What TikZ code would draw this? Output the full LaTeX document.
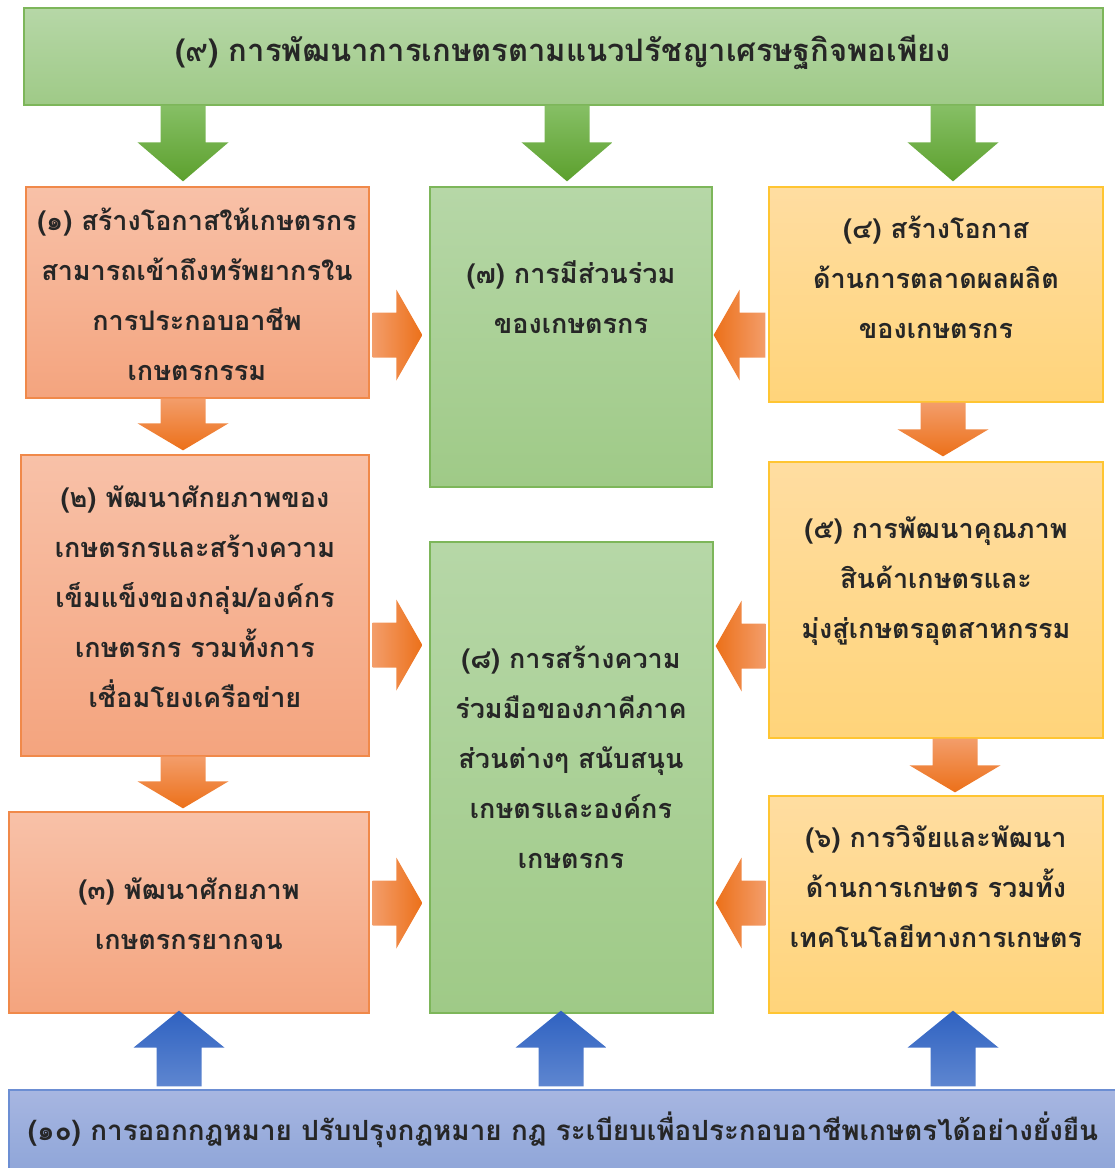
\documentclass[tikz,border=0pt]{standalone}
\usepackage{fontspec}
\newfontfamily\thaifont[Script=Thai]{Loma}
\usepackage{tikz}
\usetikzlibrary{calc}
\usetikzlibrary{positioning}

\definecolor{otop}{HTML}{F8C1A8}
\definecolor{obot}{HTML}{F4A47E}
\definecolor{oline}{HTML}{F0894A}
\definecolor{gtop}{HTML}{B6D7A7}
\definecolor{gbot}{HTML}{9FCA87}
\definecolor{gline}{HTML}{7DB65A}
\definecolor{ytop}{HTML}{FFDDA1}
\definecolor{ybot}{HTML}{FFD47A}
\definecolor{yline}{HTML}{FFC532}
\definecolor{btop}{HTML}{A7B6E1}
\definecolor{bbot}{HTML}{8EA5D8}
\definecolor{bline}{HTML}{6C8ED3}
\definecolor{galight}{HTML}{86BF65}
\definecolor{gadark}{HTML}{5CA02D}
\definecolor{oalight}{HTML}{F39D6A}
\definecolor{oadark}{HTML}{EC7019}
\definecolor{balight}{HTML}{5E86D0}
\definecolor{badark}{HTML}{2F62C1}
\definecolor{ink}{HTML}{262626}

\tikzset{
  box/.style={rectangle, line width=1.3pt, inner sep=0pt},
  obox/.style={box, draw=oline, top color=otop, bottom color=obot},
  gbox/.style={box, draw=gline, top color=gtop, bottom color=gbot},
  ybox/.style={box, draw=yline, top color=ytop, bottom color=ybot},
  bbox/.style={box, draw=bline, top color=btop, bottom color=bbot},
  txt/.style={align=center, text=ink, inner sep=0pt,
    font=\thaifont\bfseries\fontsize{27}{50}\selectfont},
  bigtxt/.style={txt, font=\thaifont\bfseries\fontsize{31}{50}\selectfont},
  midtxt/.style={txt, font=\thaifont\bfseries\fontsize{27.8}{50}\selectfont},
  gdown/.style={top color=galight, bottom color=gadark},
  odown/.style={top color=oalight, bottom color=oadark},
  oright/.style={left color=oalight, right color=oadark},
  oleft/.style={left color=oadark, right color=oalight},
  bup/.style={top color=badark, bottom color=balight},
}

% block arrow: style, from, to, head length
\newcommand{\blockarrow}[4][]{%
  \path[#1] let \p1=(#2), \p2=(#3),
    \n1={veclen(\x2-\x1,\y2-\y1)}, \n2={atan2(\y2-\y1,\x2-\x1)} in
    [shift={(\p1)}, rotate=\n2]
    (0pt,-22.5pt) -- (\n1-#4,-22.5pt) -- (\n1-#4,-45.5pt) -- (\n1,0pt)
    -- (\n1-#4,45.5pt) -- (\n1-#4,22.5pt) -- (0pt,22.5pt) -- cycle;}

\begin{document}
\begin{tikzpicture}[x=1pt,y=-1pt]
	\useasboundingbox (0,0) rectangle (1115,1168);

	\node[gbox, minimum width=1079pt, minimum height=97pt] (b9) at (563.5,56.5) {};
	\node[obox, minimum width=343pt, minimum height=211pt] (b1) at (197.5,292.5) {};
	\node[gbox, minimum width=282pt, minimum height=300pt] (b7) at (571,337) {};
	\node[ybox, minimum width=334pt, minimum height=215pt] (b4) at (936,294.5) {};
	\node[obox, minimum width=348pt, minimum height=301pt] (b2) at (195,605.5) {};
	\node[gbox, minimum width=283pt, minimum height=471pt] (b8) at (571.5,777.5) {};
	\node[ybox, minimum width=334pt, minimum height=276pt] (b5) at (936,600) {};
	\node[obox, minimum width=360pt, minimum height=201pt] (b3) at (189,912.5) {};
	\node[ybox, minimum width=334pt, minimum height=217pt] (b6) at (936,904.5) {};
	\node[bbox, minimum width=1111pt, minimum height=85pt] (b10) at (564.5,1132.5) {};

	\node[bigtxt] (t9) at (563,52) {(๙) การพัฒนาการเกษตรตามแนวปรัชญาเศรษฐกิจพอเพียง};
	\node[txt] (t1) at (197,294) {(๑) สร้างโอกาสให้เกษตรกร\\สามารถเข้าถึงทรัพยากรใน\\การประกอบอาชีพ\\เกษตรกรรม};
	\node[txt] (t7) at (571,297) {(๗) การมีส่วนร่วม\\ของเกษตรกร};
	\node[txt] (t4) at (936,277) {(๔) สร้างโอกาส\\ด้านการตลาดผลผลิต\\ของเกษตรกร};
	\node[txt] (t2) at (195,597) {(๒) พัฒนาศักยภาพของ\\เกษตรกรและสร้างความ\\เข็มแข็งของกลุ่ม/องค์กร\\เกษตรกร รวมทั้งการ\\เชื่อมโยงเครือข่าย};
	\node[txt] (t8) at (571,757) {(๘) การสร้างความ\\ร่วมมือของภาคีภาค\\ส่วนต่างๆ สนับสนุน\\เกษตรและองค์กร\\เกษตรกร};
	\node[txt] (t5) at (936,581) {(๕) การพัฒนาคุณภาพ\\สินค้าเกษตรและ\\มุ่งสู่เกษตรอุตสาหกรรม};
	\node[txt] (t3) at (189,914) {(๓) พัฒนาศักยภาพ\\เกษตรกรยากจน};
	\node[txt] (t6) at (936,886) {(๖) การวิจัยและพัฒนา\\ด้านการเกษตร รวมทั้ง\\เทคโนโลยีทางการเกษตร};
	\node[midtxt] (t10) at (563,1130) {(๑๐) การออกกฎหมาย ปรับปรุงกฎหมาย กฎ ระเบียบเพื่อประกอบอาชีพเกษตรได้อย่างยั่งยืน};

	\blockarrow[gdown]{b9.south -| 183,0}{$(b1.north -| 183,0)+(0,-5)$}{39pt}
	\blockarrow[gdown]{b9.south -| 567,0}{$(b7.north -| 567,0)+(0,-5)$}{39pt}
	\blockarrow[gdown]{b9.south -| 953,0}{$(b4.north -| 953,0)+(0,-5)$}{39pt}

	\blockarrow[odown]{b1.south -| 183,0}{$(b2.north -| 183,0)+(0,-4)$}{27pt}
	\blockarrow[odown]{b2.south -| 183,0}{$(b3.north -| 183,0)+(0,-3)$}{27pt}
	\blockarrow[odown]{b4.south -| 943,0}{$(b5.north -| 943,0)+(0,-5)$}{27pt}
	\blockarrow[odown]{b5.south -| 955,0}{$(b6.north -| 955,0)+(0,-3)$}{27pt}

	\blockarrow[oright]{$(b1.east |- 0,335)+(3,0)$}{$(b7.west |- 0,335)+(-7,0)$}{26pt}
	\blockarrow[oright]{$(b2.east |- 0,645)+(3,0)$}{$(b8.west |- 0,645)+(-7,0)$}{26pt}
	\blockarrow[oright]{$(b3.east |- 0,903)+(3,0)$}{$(b8.west |- 0,903)+(-7,0)$}{26pt}
	\blockarrow[oleft]{$(b4.west |- 0,335)+(-3,0)$}{$(b7.east |- 0,335)+(1,0)$}{26pt}
	\blockarrow[oleft]{$(b5.west |- 0,646)+(-3,0)$}{$(b8.east |- 0,646)+(2,0)$}{26pt}
	\blockarrow[oleft]{$(b6.west |- 0,903)+(-3,0)$}{$(b8.east |- 0,903)+(2,0)$}{26pt}

	\blockarrow[bup]{$(b10.north -| 179,0)+(0,-3)$}{$(b3.south -| 179,0)+(0,-3)$}{37pt}
	\blockarrow[bup]{$(b10.north -| 561,0)+(0,-3)$}{$(b8.south -| 561,0)+(0,-3)$}{37pt}
	\blockarrow[bup]{$(b10.north -| 953,0)+(0,-3)$}{$(b6.south -| 953,0)+(0,-3)$}{37pt}
\end{tikzpicture}
\end{document}
